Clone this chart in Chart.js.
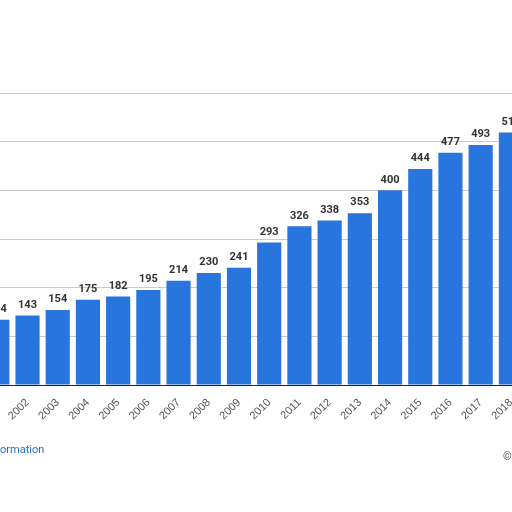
<!DOCTYPE html><html><head><script src="https://cdn.jsdelivr.net/npm/chart.js@4"></script>
<style>body{margin:0;width:512px;height:512px;overflow:hidden;position:relative;background:#fff;font-family:Roboto,Arial,sans-serif}
#w{position:absolute;left:-23px;top:0;width:549px;height:512px}
#f{position:absolute;left:0;top:443px;font-size:11px;color:#1f6fc6}
#c2{position:absolute;left:503px;top:450px;font-size:11px;color:#555}</style></head><body>
<div id="w"><canvas id="c"></canvas></div><div id="f">ormation</div><div id="c2">©</div>
<script>
const years=['2001','2002','2003','2004','2005','2006','2007','2008','2009','2010','2011','2012','2013','2014','2015','2016','2017','2018'];
const values=[134,143,154,175,182,195,214,230,241,293,326,338,353,400,444,477,493,519];
const lbl={id:'lbl',afterDatasetsDraw(ch){const x=ch.ctx;x.save();x.font='bold 11px Roboto, Arial';x.fillStyle='#333';x.textAlign='center';x.textBaseline='bottom';
ch.getDatasetMeta(0).data.forEach((b,i)=>x.fillText(values[i],b.x,b.y-5));x.restore();}};
new Chart(document.getElementById('c'),{type:'bar',data:{labels:years,datasets:[{data:values,backgroundColor:'#2876dd',barPercentage:0.8,categoryPercentage:1}]},
options:{responsive:true,maintainAspectRatio:false,animation:false,layout:{padding:{top:93,left:0,right:0,bottom:0}},
plugins:{legend:{display:false},tooltip:{enabled:false}},
scales:{x:{afterFit(s){s.height=127;},grid:{display:false},border:{color:'#222'},ticks:{color:'#555',font:{size:11},maxRotation:45,minRotation:45}},
y:{display:true,min:0,max:600,afterFit(s){s.width=0;},ticks:{display:false,stepSize:100},border:{display:false},grid:{color:'#ccc',borderDash:[1,2],drawTicks:false}}}},plugins:[lbl]});
</script></body></html>
